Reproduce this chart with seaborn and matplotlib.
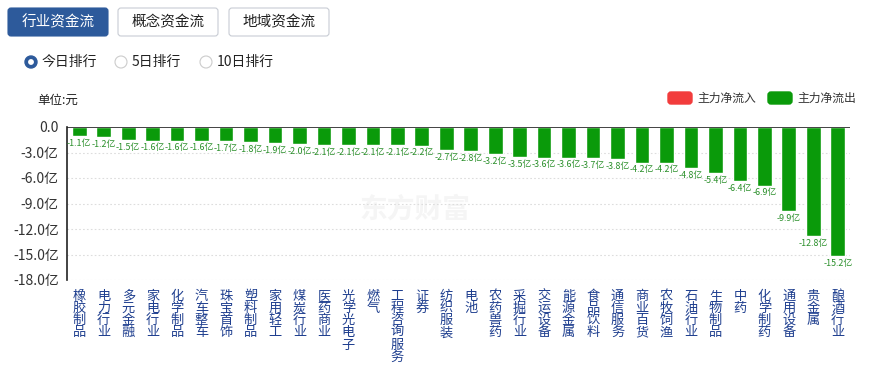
import numpy as np
import pandas as pd
import matplotlib
matplotlib.use('Agg')
import matplotlib.pyplot as plt
import matplotlib.patches as mpatches
import seaborn as sns

industries = ['橡胶制品', '电力行业', '多元金融', '家电行业', '化学制品', '汽车整车', '珠宝首饰',
              '塑料制品', '家用轻工', '煤炭行业', '医药商业', '光学光电子', '燃气', '工程咨询服务',
              '证券', '纺织服装', '电池', '农药兽药', '采掘行业', '交运设备', '能源金属', '食品饮料',
              '通信服务', '商业百货', '农牧饲渔', '石油行业', '生物制品', '中药', '化学制药',
              '通用设备', '贵金属', '酿酒行业']
net_flow = [-1.1, -1.2, -1.5, -1.6, -1.6, -1.6, -1.7, -1.8, -1.9, -2.0, -2.1, -2.1, -2.1, -2.1,
            -2.2, -2.7, -2.8, -3.2, -3.5, -3.6, -3.6, -3.7, -3.8, -4.2, -4.2, -4.8, -5.4, -6.4,
            -6.9, -9.9, -12.8, -15.2]
yticks = [0, -3, -6, -9, -12, -15, -18]

sns.set_theme(style='white')
plt.rcParams['font.family'] = ['Noto Sans CJK SC', 'DejaVu Sans']
plt.rcParams['axes.unicode_minus'] = False

green = '#0a9a0a'
red = '#f23c3c'
blue = '#2d5a9b'

df = pd.DataFrame({'name': industries, 'val': net_flow})

fig = plt.figure(figsize=(8.7, 3.7), dpi=100)
ax = fig.add_axes([67/870, 1-280/370, (850-67)/870, 153/370])
sns.barplot(data=df, x='name', y='val', color=green, saturation=1, width=0.6, ax=ax)
ax.set_ylim(-18, 0)
ax.set_xlim(-0.5, len(industries)-0.5)
ax.set_yticks(yticks)
ax.set_yticklabels(['0.0'] + [f'{v:.1f}亿' for v in yticks[1:]], fontsize=10, color='#333333')
ax.set_xticks(range(len(industries)))
ax.set_xticklabels(['\n'.join(n) for n in industries], fontsize=9.5, color='#1f3f8f',
                   va='top', linespacing=0.92)
ax.tick_params(axis='y', length=0, pad=6)
ax.tick_params(axis='x', length=0, pad=7)
ax.set_xlabel('')
ax.set_ylabel('')
for y in yticks[1:]:
    ax.axhline(y, color='#dddddd', lw=0.8, ls=(0, (1.5, 2)), zorder=0)
ax.axhline(0, color='#222222', lw=1.2, zorder=3)
for s in ['top', 'right', 'bottom']:
    ax.spines[s].set_visible(False)
ax.spines['left'].set_color('#222222')
ax.spines['left'].set_linewidth(1.2)
ax.bar_label(ax.containers[0], labels=[f'{v}亿' for v in net_flow], padding=2,
             fontsize=6.4, color='#2a8f2a')

# page widgets in pixel coords
ov = fig.add_axes([0, 0, 1, 1], zorder=-1)
ov.set_xlim(0, 870)
ov.set_ylim(370, 0)
ov.axis('off')

tabs = [('行业资金流', 8, True), ('概念资金流', 118, False), ('地域资金流', 229, False)]
for txt, x0, active in tabs:
    ov.add_patch(mpatches.FancyBboxPatch((x0, 8), 100, 28, boxstyle='round,pad=0,rounding_size=3',
                                         fc=blue if active else 'white',
                                         ec=blue if active else '#c8ccd4', lw=0.8))
    ov.text(x0+50, 22, txt, ha='center', va='center', fontsize=10.5,
            color='white' if active else '#222222')

radios = [('今日排行', 31, True), ('5日排行', 121, False), ('10日排行', 206, False)]
for txt, cx, on in radios:
    if on:
        ov.add_patch(mpatches.Circle((cx, 62), 6, fc=blue, ec=blue))
        ov.add_patch(mpatches.Circle((cx, 62), 2.2, fc='white', ec='white'))
    else:
        ov.add_patch(mpatches.Circle((cx, 62), 6, fc='white', ec='#cccccc', lw=0.8))
    ov.text(cx+11, 62, txt, ha='left', va='center', fontsize=10, color='#222222')

ov.text(37, 100, '单位:元', ha='left', va='center', fontsize=9, color='#222222')
ov.text(340+75, 210, '东方财富', ha='center', va='center', fontsize=20, color='#f5f5f5',
        fontweight='bold', zorder=0)

legend = [('主力净流入', 668, red), ('主力净流出', 768, green)]
for txt, x0, c in legend:
    ov.add_patch(mpatches.FancyBboxPatch((x0, 92), 24, 12, boxstyle='round,pad=0,rounding_size=3',
                                         fc=c, ec=c))
    ov.text(x0+29, 98, txt, ha='left', va='center', fontsize=8.5, color='#333333')

ax.patch.set_alpha(0)
fig.savefig('out.png', dpi=100)
